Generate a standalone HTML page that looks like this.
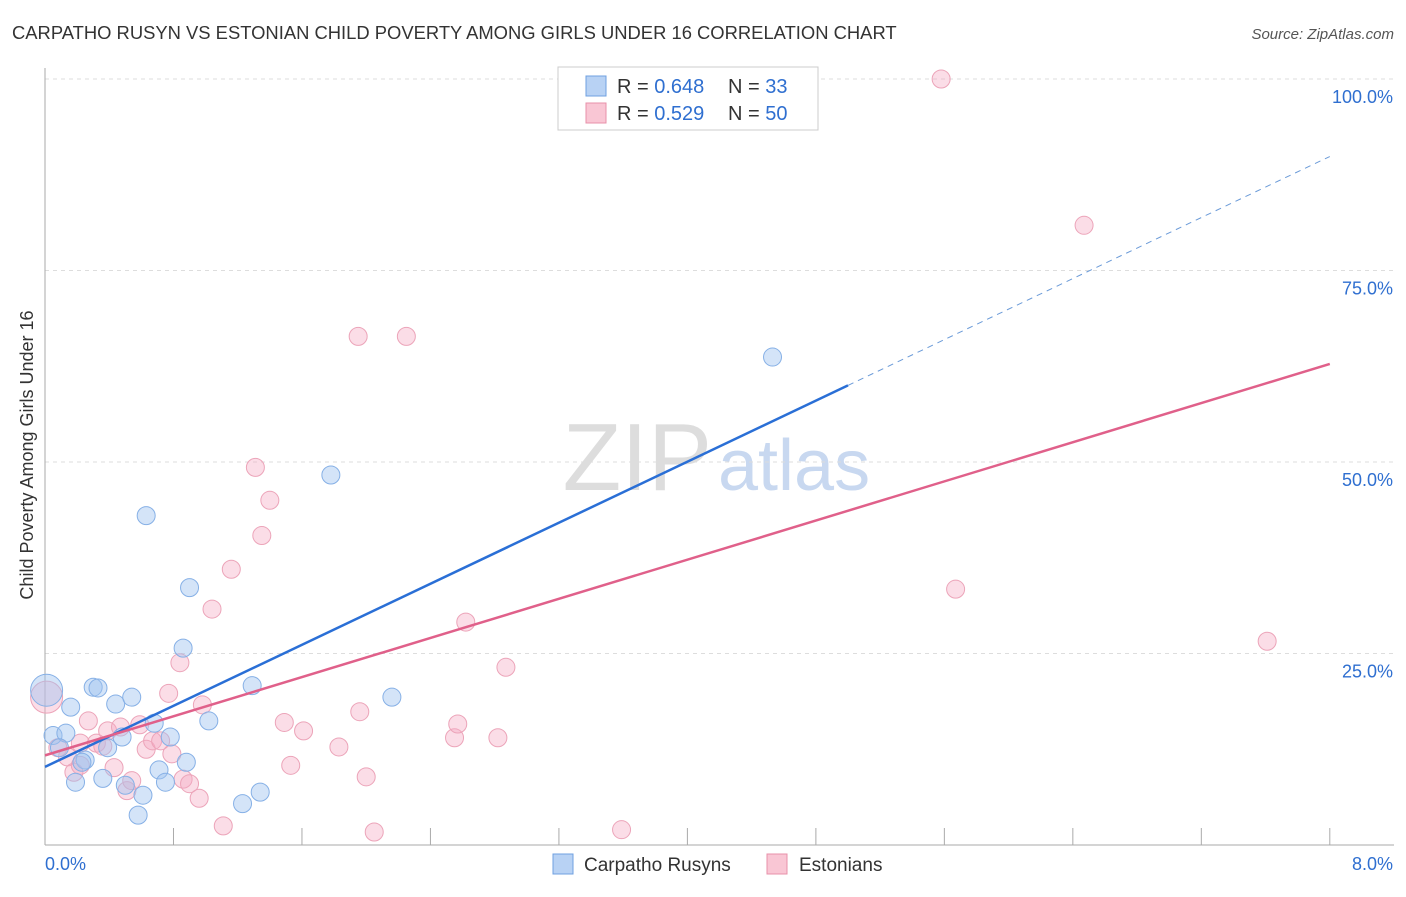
<!DOCTYPE html>
<html><head><meta charset="utf-8"><style>
body{margin:0;background:#fff;font-family:"Liberation Sans",sans-serif;}
svg text{font-family:"Liberation Sans",sans-serif;}
</style></head><body>
<svg id="c" width="1406" height="892" xmlns="http://www.w3.org/2000/svg">
<text x="12" y="39" font-size="18.4" fill="#333">CARPATHO RUSYN VS ESTONIAN CHILD POVERTY AMONG GIRLS UNDER 16 CORRELATION CHART</text>
<text x="1394" y="39" font-size="15" fill="#555" font-style="italic" text-anchor="end">Source: ZipAtlas.com</text>
<text x="712" y="490" font-size="96" fill="#ddd" text-anchor="end" font-family="Liberation Serif">ZIP</text>
<text x="718" y="490" font-size="72" fill="#c8d8f0">atlas</text>
<text transform="translate(33,455) rotate(-90)" font-size="18" fill="#333" text-anchor="middle">Child Poverty Among Girls Under 16</text>
<g id="grid"></g><g id="pts"></g><g id="lines"></g>
<g>
<rect x="558" y="67" width="260" height="63" fill="#fff" stroke="#ccc"/>
<rect x="586" y="76" width="20" height="20" fill="#b8d2f4" stroke="#6fa0e0"/>
<rect x="586" y="103" width="20" height="20" fill="#f9c6d4" stroke="#e890aa"/>
<text x="617" y="93" font-size="20" fill="#333">R = <tspan fill="#2f6fd0">0.648</tspan></text>
<text x="728" y="93" font-size="20" fill="#333">N =  <tspan fill="#2f6fd0">33</tspan></text>
<text x="617" y="120" font-size="20" fill="#333">R = <tspan fill="#2f6fd0">0.529</tspan></text>
<text x="728" y="120" font-size="20" fill="#333">N = <tspan fill="#2f6fd0">50</tspan></text>
</g>
<g>
<rect x="553" y="854" width="20" height="20" fill="#b8d2f4" stroke="#6fa0e0"/>
<text x="584" y="871" font-size="19" fill="#333">Carpatho Rusyns</text>
<rect x="767" y="854" width="20" height="20" fill="#f9c6d4" stroke="#e890aa"/>
<text x="799" y="871" font-size="19" fill="#333">Estonians</text>
</g>
<text x="45" y="870" font-size="18" fill="#2f6fd0">0.0%</text>
<text x="1393" y="870" font-size="18" fill="#2f6fd0" text-anchor="end">8.0%</text>
</svg>
<script>
const yTicks=[25,50,75,100];
const yTickLabels=["25.0%","50.0%","75.0%","100.0%"];
const blueX=[0.01,0.05,0.13,0.16,0.09,0.19,0.25,0.23,0.30,0.33,0.36,0.39,0.44,0.48,0.50,0.54,0.58,0.61,0.63,0.68,0.71,0.75,0.78,0.86,0.88,0.90,1.02,1.23,1.29,1.34,1.78,2.16,4.53];
const blueY=[20.2,14.3,14.6,18.0,12.7,8.2,11.1,10.8,20.6,20.5,8.7,12.7,18.4,14.1,7.8,19.3,3.9,6.5,43.0,15.9,9.8,8.2,14.1,25.7,10.8,33.6,16.2,5.4,20.8,6.9,48.3,19.3,63.7];
const pinkX=[0.01,0.08,0.14,0.18,0.22,0.27,0.32,0.36,0.39,0.43,0.47,0.51,0.54,0.59,0.63,0.67,0.72,0.77,0.79,0.84,0.86,0.90,0.96,0.98,1.04,1.11,1.16,1.31,1.35,1.40,1.49,1.53,1.61,1.83,1.95,1.96,2.00,2.05,2.25,2.55,2.57,2.62,2.82,2.87,3.59,5.58,5.67,6.47,7.61,0.22];
const pinkY=[19.3,12.7,11.5,9.5,10.4,16.2,13.3,12.9,14.9,10.1,15.4,7.1,8.4,15.7,12.5,13.6,13.6,19.8,11.9,23.8,8.6,8.0,6.1,18.3,30.8,2.5,36.0,49.3,40.4,45.0,16.0,10.4,14.9,12.8,66.4,17.4,8.9,1.7,66.4,14.0,15.8,29.1,14.0,23.2,2.0,100,33.4,80.9,26.6,13.3];
const blueLine=[0,10.2,5.0,60.0];
const pinkLine=[0,11.7,8.0,62.8];
const X=v=>45+v*160.6, Y=v=>845-v*7.66;
const NS="http://www.w3.org/2000/svg";
function mk(t,a,p){const e=document.createElementNS(NS,t);for(const k in a)e.setAttribute(k,a[k]);p.appendChild(e);return e;}
const grid=document.getElementById('grid');
yTicks.forEach((t,i)=>{
 const l=mk('line',{x1:45,x2:1394,y1:Y(t),y2:Y(t),stroke:'#ddd','stroke-dasharray':'4,4'},grid);
 
 
 const tx=mk('text',{x:1393,y:Y(t)+24,'font-size':18,fill:'#2f6fd0','text-anchor':'end'},grid);
 tx.textContent=yTickLabels[i];
 
 
});
mk('line',{x1:45,x2:1394,y1:845,y2:845,stroke:'#aaa'},grid);
mk('line',{x1:45,x2:45,y1:68,y2:845,stroke:'#aaa'},grid);
for(let i=0;i<=10;i++){const t=mk('line',{x1:X(i*0.8),x2:X(i*0.8),y1:828,y2:845,stroke:'#aaa'},grid);
 
 }
const pts=document.getElementById('pts');
function drawPts(xs,ys,fill,stroke,name){xs.forEach((x,i)=>{
 const c=mk('circle',{cx:X(x),cy:Y(ys[i]),r:i==0?16:9,fill:fill,stroke:stroke,'stroke-width':1},pts);
 
 });}
drawPts(pinkX,pinkY,'rgba(245,170,195,0.4)','#eca4b9','estonian-point');
drawPts(blueX,blueY,'rgba(160,196,240,0.45)','#86b0e6','carpatho-rusyn-point');
const lines=document.getElementById('lines');
const bl=mk('line',{x1:X(blueLine[0]),y1:Y(blueLine[1]),x2:X(blueLine[2]),y2:Y(blueLine[3]),stroke:'#2a6fd6','stroke-width':2.5},lines);


const slope=(blueLine[3]-blueLine[1])/(blueLine[2]-blueLine[0]);
const bd=mk('line',{x1:X(blueLine[2]),y1:Y(blueLine[3]),x2:X(8),y2:Y(blueLine[1]+slope*8),stroke:'#6a9ad8','stroke-width':1,'stroke-dasharray':'6,5'},lines);


const pl=mk('line',{x1:X(pinkLine[0]),y1:Y(pinkLine[1]),x2:X(pinkLine[2]),y2:Y(pinkLine[3]),stroke:'#e0608a','stroke-width':2.5},lines);


</script>
</body></html>
